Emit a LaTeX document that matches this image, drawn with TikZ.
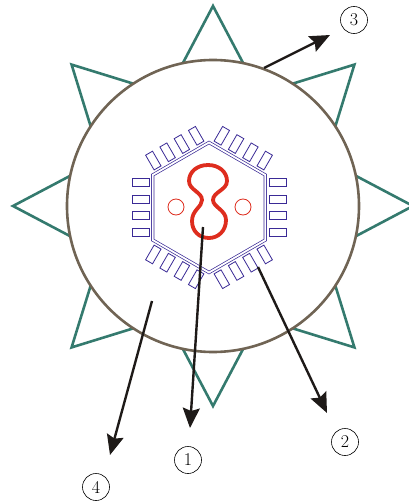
\documentclass[tikz,border=0pt]{standalone}
\usetikzlibrary{arrows.meta}

\definecolor{spikegreen}{RGB}{52,122,110}
\definecolor{shellbrown}{RGB}{112,100,84}
\definecolor{coreblue}{RGB}{58,42,150}
\definecolor{rnared}{RGB}{222,45,30}
\definecolor{inkblack}{RGB}{30,26,24}

\begin{document}
\begin{tikzpicture}[x=1pt,y=-1pt,
    spike/.style={draw=spikegreen,line width=2.6pt},
    shell/.style={circle,draw=shellbrown,line width=2.6pt,fill=white,inner sep=0pt,minimum size=292pt},
    capsid/.style={draw=coreblue,double=white,double distance=1.8pt,line width=0.7pt},
    tooth/.style={draw=coreblue,line width=0.8pt},
    rna/.style={draw=rnared,line width=3.8pt},
    pore/.style={draw=rnared,line width=0.8pt},
    pointer/.style={-{Stealth[length=20pt,width=17pt,inset=3pt]},line width=2.4pt,draw=inkblack,fill=inkblack},
    numlabel/.style={circle,draw,line width=0.6pt,inner sep=0pt,minimum size=27pt,font=\fontsize{18}{18}\selectfont}]

    \useasboundingbox (0,0) rectangle (409,503);

    % envelope spikes, bases hidden under the shell
    \begin{scope}[shift={(213,206)}]
        \foreach \a in {0,45,...,315}
            \draw[spike] (\a:200) -- (\a+14:140) -- (\a-14:140) -- cycle;
    \end{scope}

    \node[shell] (shell) at (213,206) {};

    % capsid with its teeth
    \begin{scope}[shift={(209,207.5)}]
        \draw[capsid] (30:65) -- (90:65) -- (150:65) -- (210:65) -- (270:65) -- (330:65) -- cycle;
        \foreach \a in {0,60,...,300}
            \foreach \t in {-24.75,-8.25,8.25,24.75}
                \draw[tooth,rotate=\a] (60,\t-4) rectangle (77,\t+4);
    \end{scope}

    % genome and the two small rings
    \draw[rna] (208,165)
        .. controls (219,165) and (227,172) .. (227,181)
        .. controls (227,190) and (213,192) .. (213,200)
        .. controls (213,207) and (226,210) .. (226,220)
        .. controls (226,231) and (218,238) .. (209,238)
        .. controls (199,238) and (192,231) .. (192,221)
        .. controls (192,210) and (202,207) .. (202,200)
        .. controls (202,192) and (189,190) .. (189,181)
        .. controls (189,172) and (197,165) .. (208,165) -- cycle;
    \draw[pore] (176,207) circle[radius=8pt];
    \draw[pore] (243,207) circle[radius=8pt];

    % callouts
    \coordinate (s1) at (203,227);
    \coordinate (t1) at (190,428);
    \coordinate (s2) at (258,267);
    \coordinate (t2) at (327,413);
    \coordinate (s3) at (264,68);
    \coordinate (t3) at (330,35);
    \coordinate (s4) at (152,301);
    \coordinate (t4) at (110,455);

    \draw[pointer] (s1) -- (t1);
    \draw[pointer] (s2) -- (t2);
    \draw[pointer] (s3) -- (t3);
    \draw[pointer] (s4) -- (t4);

    \node[numlabel] (n1) at (188,460) {1};
    \node[numlabel] (n2) at (345,442) {2};
    \node[numlabel] (n3) at (354,20) {3};
    \node[numlabel] (n4) at (96,487) {4};
\end{tikzpicture}
\end{document}
